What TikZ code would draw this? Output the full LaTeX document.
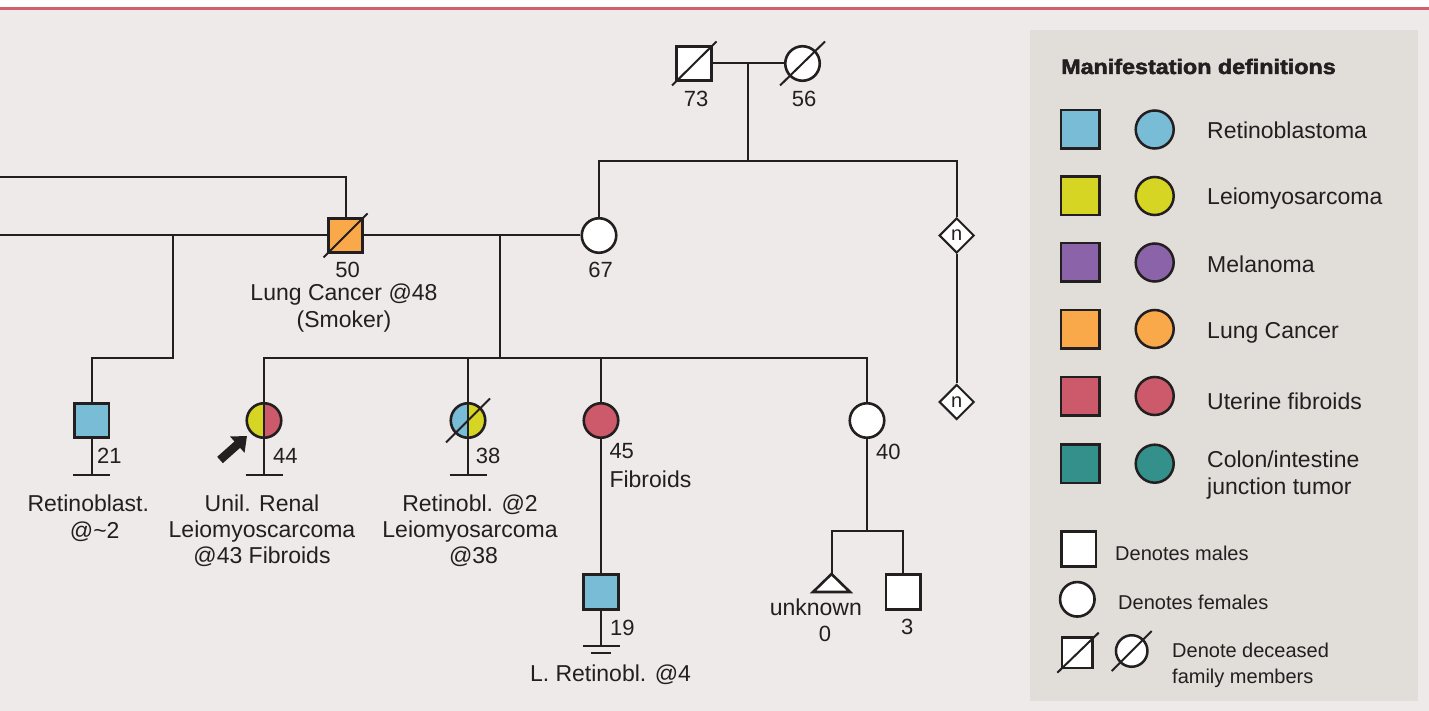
\documentclass[tikz,border=0pt]{standalone}
\usepackage{fontspec}
\setmainfont{Liberation Sans}
\newfontfamily\heavyfont[FakeBold=2.2]{Liberation Sans Bold}
\usetikzlibrary{arrows.meta,shapes.geometric}
\definecolor{bg}{HTML}{EEEAE9}
\definecolor{panel}{HTML}{E1DDD9}
\definecolor{ink}{HTML}{231F20}
\definecolor{redline}{HTML}{D0606E}
\definecolor{cblue}{HTML}{79BCD6}
\definecolor{cyellow}{HTML}{D7D524}
\definecolor{cpurple}{HTML}{8B63A9}
\definecolor{corange}{HTML}{F9A84A}
\definecolor{cred}{HTML}{CC5A6A}
\definecolor{cteal}{HTML}{33908A}
\begin{document}
\begin{tikzpicture}[x=1pt,y=-1pt,
  line/.style={draw=ink,line width=2pt},
  slash/.style={draw=ink,line width=2pt},
  male/.style={draw=ink,line width=2.6pt,rectangle,minimum size=34.5pt,inner sep=0pt,fill=white},
  female/.style={draw=ink,line width=2.6pt,circle,minimum size=34.5pt,inner sep=0pt,fill=white},
  diam/.style={draw=ink,line width=2pt,diamond,minimum width=35pt,minimum height=35pt,inner sep=0pt,fill=white,text=ink,font=\fontsize{20}{22}\selectfont},
  legsq/.style={draw=ink,line width=2.5pt,rectangle,minimum size=38.5pt,inner sep=0pt},
  legci/.style={draw=ink,line width=2.5pt,circle,minimum size=38pt,inner sep=0pt},
  lbl/.style={text=ink,font=\fontsize{23}{26}\selectfont,inner sep=0pt,anchor=base},
  lbll/.style={lbl,anchor=base west},
  num/.style={text=ink,font=\fontsize{22}{26}\selectfont,inner sep=0pt,anchor=base},
  numl/.style={num,anchor=base west},
  legt/.style={text=ink,font=\fontsize{23}{26}\selectfont,inner sep=0pt,anchor=base west},
  legs/.style={text=ink,font=\fontsize{20}{24}\selectfont,inner sep=0pt,anchor=base west},
  halves/.style n args={2}{path picture={
     \fill[#1] (path picture bounding box.south west) rectangle (path picture bounding box.north);
     \fill[#2] (path picture bounding box.south) rectangle (path picture bounding box.north east);
     \draw[ink,line width=2pt] (path picture bounding box.south) -- (path picture bounding box.north);}}
]
% background
\fill[bg] (0,0) rectangle (1429,711);
\fill[white] (0,0) rectangle (1429,7.3);
\fill[redline] (0,7.3) rectangle (1429,10);
\fill[panel] (1030,30) rectangle (1418,701);
\useasboundingbox (0,0) rectangle (1429,711);

% ---------------- pedigree nodes
\node[male] (gf) at (694,63.5) {};
\node[female] (gm) at (802.5,63.5) {};
\node[female] (m67) at (599,235.5) {};
\node[diam] (d1) at (956.7,235.5) {n};
\node[diam] (d2) at (956.7,402) {n};
\node[male,fill=corange] (f50) at (345.5,235.5) {};
\node[male,fill=cblue] (s21) at (91.7,420.5) {};
\node[female,halves={cyellow}{cred}] (c44) at (264,420.5) {};
\node[female,halves={cblue}{cyellow}] (c38) at (468,420.5) {};
\node[female,fill=cred] (c45) at (601,420.5) {};
\node[female] (c40) at (867,420.5) {};
\node[male,fill=cblue] (s19) at (601,592) {};
\node[male] (s3) at (903.3,592) {};
\coordinate (t0) at (831.5,574);
\draw[draw=ink,line width=2.6pt,fill=white,line join=miter] (t0) -- (850,592) -- (813,592) -- cycle;

% ---------------- connectors
\coordinate (g1) at (748,63.5);
\coordinate (g2) at (748,161.5);
\draw[line] (gf) -- (gm);
\draw[line] (g1) -- (g2);
\draw[line] (m67) |- (g2) -| (d1);
\draw[line] (d1) -- (d2);
\draw[line] (f50) -- (m67);
\coordinate (w1) at (0,177);
\coordinate (w2) at (0,235.5);
\draw[line] (f50) |- (w1);
\draw[line] (f50) -- (w2);
\coordinate (j1) at (173,235.5);
\coordinate (j2) at (173,357.5);
\draw[line] (j1) -- (j2) -| (s21);
\coordinate (mm) at (500,235.5);
\coordinate (sb) at (500,357.5);
\draw[line] (mm) -- (sb);
\draw[line] (c44) |- (sb) -| (c40);
\draw[line] (c38) -- (c38 |- sb);
\draw[line] (c45) -- (c45 |- sb);
% no-offspring bars
\coordinate (b21) at (91.7,475);
\coordinate (b44) at (264,475);
\coordinate (b38) at (468,475);
\draw[line] (s21) -- (b21);
\draw[line] ([xshift=-18.5pt]b21) -- ([xshift=18.5pt]b21);
\draw[line] (c44) -- (b44);
\draw[line] ([xshift=-18.5pt]b44) -- ([xshift=18.5pt]b44);
\draw[line] (c38) -- (b38);
\draw[line] ([xshift=-18.5pt]b38) -- ([xshift=18.5pt]b38);
\draw[line] (c45) -- (s19);
\coordinate (b19) at (601,646);
\coordinate (b19b) at (601,653);
\draw[line] (s19) -- (b19);
\draw[line] ([xshift=-18.5pt]b19) -- ([xshift=18.5pt]b19);
\draw[line] ([xshift=-10pt]b19b) -- ([xshift=10pt]b19b);
\coordinate (k1) at (867,531);
\draw[line] (c40) -- (k1);
\draw[line] (t0) |- (k1) -| (s3);

% deceased slashes
\draw[slash] (gf.center) ++(-22,22) -- ++(44.5,-44);
\draw[slash] (gm.center) ++(-22.5,22) -- ++(45,-44);
\draw[slash] (f50.center) ++(-22,22) -- ++(44,-44);
\draw[slash] (c38.center) ++(-22,22) -- ++(44,-44);

% proband arrow
\coordinate (at) at (220,460);
\coordinate (ah) at (247,436);
\draw[ink,line width=8.5pt,-{Triangle[length=13pt,width=21pt]}] (at) -- (ah);

% ---------------- pedigree labels
\node[num] (l73) at (696,107) {73};
\node[num] (l56) at (804,107) {56};
\node[num] (l67) at (600.5,278) {67};
\node[num] (l50) at (347.5,278) {50};
\node[lbl] (l50a) at (344,300) {Lung Cancer @48};
\node[lbl] (l50b) at (344,327) {(Smoker)};
\node[numl] (l21) at (97,463.3) {21};
\node[numl] (l44) at (273,463.3) {44};
\node[numl] (l38) at (475.7,463.3) {38};
\node[lbl] (t21a) at (88.3,511) {Retinoblast.};
\node[lbl] (t21b) at (94.7,538) {@\textasciitilde 2};
\node[lbl] (t44a) at (262,511) {Unil. Renal};
\node[lbl] (t44b) at (262,537) {Leiomyoscarcoma};
\node[lbl] (t44c) at (262,563.3) {@43 Fibroids};
\node[lbl] (t38a) at (470,511) {Retinobl. @2};
\node[lbl] (t38b) at (470,537) {Leiomyosarcoma};
\node[lbl] (t38c) at (473.5,563.3) {@38};
\node[numl] (l45) at (609.3,458.3) {45};
\node[lbll] (t45) at (609.3,487.3) {Fibroids};
\node[numl] (l19) at (610,635) {19};
\node[lbl] (t19) at (610.5,681.7) {L. Retinobl. @4};
\node[numl] (l40) at (876,459.3) {40};
\node[lbl] (tun) at (815.8,615) {unknown};
\node[num] (l0) at (825,641) {0};
\node[num] (l3) at (907.3,634.3) {3};

% ---------------- legend
\node[text=ink,inner sep=0pt,anchor=base west,font=\heavyfont\fontsize{21}{24}\selectfont] (ltitle) at (1061,74) {\scalebox{1.11}[1]{Manifestation definitions}};
\node[legsq,fill=cblue] (q1) at (1080.3,129.5) {};
\node[legci,fill=cblue] (o1) at (1154.7,129.5) {};
\node[legt] (x1) at (1207,138.3) {Retinoblastoma};
\node[legsq,fill=cyellow] (q2) at (1080.3,196) {};
\node[legci,fill=cyellow] (o2) at (1154.7,196) {};
\node[legt] (x2) at (1207,205) {Leiomyosarcoma};
\node[legsq,fill=cpurple] (q3) at (1080.3,262.5) {};
\node[legci,fill=cpurple] (o3) at (1154.7,262.5) {};
\node[legt] (x3) at (1207,272.7) {Melanoma};
\node[legsq,fill=corange] (q4) at (1080.3,329) {};
\node[legci,fill=corange] (o4) at (1154.7,329) {};
\node[legt] (x4) at (1207,338.3) {Lung Cancer};
\node[legsq,fill=cred] (q5) at (1080.3,396) {};
\node[legci,fill=cred] (o5) at (1154.7,396) {};
\node[legt] (x5) at (1207,409.3) {Uterine fibroids};
\node[legsq,fill=cteal] (q6) at (1080.3,463.7) {};
\node[legci,fill=cteal] (o6) at (1154.7,463.7) {};
\node[legt] (x6a) at (1207,467.3) {Colon/intestine};
\node[legt] (x6b) at (1207,494.3) {junction tumor};
\node[male] (qm) at (1078.7,549) {};
\node[legs] (xm) at (1115,560) {Denotes males};
\node[female] (of) at (1077.3,599.3) {};
\node[legs] (xf) at (1118,609) {Denotes females};
\node[draw=ink,line width=2.5pt,rectangle,minimum size=30.5pt,inner sep=0pt,fill=white] (qd) at (1077.3,652.5) {};
\node[draw=ink,line width=2.5pt,circle,minimum size=31.5pt,inner sep=0pt,fill=white] (od) at (1131.7,651) {};
\draw[slash] (qd.center) ++(-20,20.2) -- ++(41.4,-40);
\draw[slash] (od.center) ++(-20,20) -- ++(40,-40);
\node[legs] (xd1) at (1172,657.3) {Denote deceased};
\node[legs] (xd2) at (1172,683.3) {family members};
\end{tikzpicture}
\end{document}
